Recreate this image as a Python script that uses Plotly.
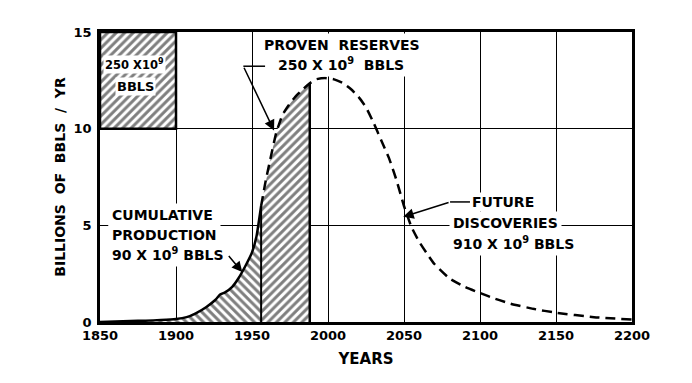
import plotly.graph_objects as go

# ---- data ----
hist_years = [1850, 1860, 1870, 1880, 1890, 1900, 1907, 1913, 1920, 1926, 1929, 1932, 1937, 1941, 1946, 1950, 1953, 1956]
hist_rate = [0.0, 0.03, 0.05, 0.07, 0.1, 0.15, 0.25, 0.45, 0.78, 1.15, 1.42, 1.52, 1.82, 2.25, 2.95, 3.6, 4.45, 6.0]

future_years = [1956, 1959, 1962, 1966, 1970, 1974, 1978, 1983, 1988, 1992, 1998, 2004, 2010, 2015, 2020, 2025,
                2030, 2035, 2040, 2045, 2050, 2055, 2060, 2065, 2070, 2080, 2090, 2100, 2110, 2120, 2135,
                2150, 2175, 2200]
future_rate = [6.0, 7.3, 8.4, 9.8, 10.7, 11.2, 11.6, 12.0, 12.35, 12.55, 12.62, 12.55, 12.35, 12.05, 11.65, 11.1,
               10.3, 9.4, 8.5, 7.35, 6.0, 4.9, 4.15, 3.55, 3.0, 2.25, 1.82, 1.5, 1.2, 0.95, 0.68,
               0.48, 0.25, 0.13]

production_end = 1956
proven_end = 1988
box_years = [1850, 1900]
box_rates = [10, 15]

x_ticks = [1850, 1900, 1950, 2000, 2050, 2100, 2150, 2200]
y_ticks = [0, 5, 10, 15]

FONT = "DejaVu Sans"
HATCH = dict(fgcolor="black", bgcolor="white", size=6, solidity=0.5)

fig = go.Figure()

# box of 250 x 10^9
bx = [box_years[0], box_years[1], box_years[1], box_years[0], box_years[0]]
by = [box_rates[0], box_rates[0], box_rates[1], box_rates[1], box_rates[0]]
fig.add_trace(go.Scatter(x=bx, y=by, mode="lines", fill="toself", fillcolor="white",
                         fillpattern=dict(HATCH, shape="/"),
                         line=dict(color="black", width=2.5), hoverinfo="skip"))

# cumulative production area
cx = hist_years + [production_end, hist_years[0]]
cy = hist_rate + [0, 0]
fig.add_trace(go.Scatter(x=cx, y=cy, mode="lines", fill="toself", fillcolor="white",
                         fillpattern=dict(HATCH, shape="\\"),
                         line=dict(width=0, color="rgba(0,0,0,0)"), hoverinfo="skip"))

# proven reserves area
px_ = [y for y in future_years if y <= proven_end]
py_ = [r for y, r in zip(future_years, future_rate) if y <= proven_end]
rx = px_ + [proven_end, production_end]
ry = py_ + [0, 0]
fig.add_trace(go.Scatter(x=rx, y=ry, mode="lines", fill="toself", fillcolor="white",
                         fillpattern=dict(HATCH, shape="/"),
                         line=dict(width=0, color="rgba(0,0,0,0)"), hoverinfo="skip"))

# vertical edges
fig.add_trace(go.Scatter(x=[production_end, production_end], y=[0, hist_rate[-1]], mode="lines",
                         line=dict(color="black", width=2), hoverinfo="skip"))
fig.add_trace(go.Scatter(x=[proven_end, proven_end], y=[0, py_[-1]], mode="lines",
                         line=dict(color="black", width=2.5), hoverinfo="skip"))

# historical curve (solid)
fig.add_trace(go.Scatter(x=hist_years, y=hist_rate, mode="lines",
                         line=dict(color="black", width=2.5, shape="spline", smoothing=0.4), hoverinfo="skip"))
# future curve (dashed)
fig.add_trace(go.Scatter(x=future_years, y=future_rate, mode="lines",
                         line=dict(color="black", width=2.5, dash="10px,6px", shape="spline", smoothing=0.5),
                         hoverinfo="skip"))

tf = dict(family=FONT, size=14, color="black", weight="bold")

def label(x, y, text, xanchor="center", pad=3, size=14):
    return dict(x=x, y=y, text=text, xanchor=xanchor, showarrow=False, bgcolor="white",
                borderpad=pad, font=dict(tf, size=size), xref="x", yref="y")

ann = [
    # box label
    label(1873.0, 13.33, "250 X10<sup>9</sup>", pad=1, size=11.5),
    label(1873.6, 12.2, "BBLS", pad=1, size=13),
    # proven reserves label
    label(2008.9, 14.31, "PROVEN  RESERVES", pad=3),
    label(2008.4, 13.33, "250 X 10<sup>9</sup>  BBLS", pad=3),
    # cumulative production label
    label(1855.0, 5.52, "CUMULATIVE", xanchor="left", pad=3),
    label(1855.0, 4.49, "PRODUCTION", xanchor="left", pad=3),
    label(1855.0, 3.50, "90 X 10<sup>9</sup> BBLS", xanchor="left", pad=3),
    # future discoveries labels
    label(2093.5, 6.21, "FUTURE", xanchor="left", pad=1),
    label(2079.4, 5.11, "DISCOVERIES", xanchor="left", pad=3),
    label(2079.4, 4.10, "910 X 10<sup>9</sup> BBLS", xanchor="left", pad=3),
]

# arrows
arrow = dict(showarrow=True, arrowhead=2, arrowsize=1.4, arrowwidth=1.5, arrowcolor="black",
             axref="x", ayref="y", xref="x", yref="y", text="", standoff=0, startstandoff=0)
ann.append(dict(arrow, x=1964.5, y=9.9, ax=1944.3, ay=13.23))
ann.append(dict(arrow, x=1943.6, y=2.58, ax=1933.9, ay=3.49))
ann.append(dict(arrow, x=2049.5, y=5.44, ax=2080.3, ay=6.21))

shapes = [
    dict(type="line", xref="x", yref="y", x0=1944.3, x1=1958.6, y0=13.23, y1=13.23,
         line=dict(color="black", width=1.5)),
    dict(type="line", xref="x", yref="y", x0=2080.3, x1=2093.4, y0=6.21, y1=6.21,
         line=dict(color="black", width=1.5)),
]

fig.update_layout(
    width=692, height=383,
    margin=dict(l=92, r=68, t=24, b=69),
    paper_bgcolor="white", plot_bgcolor="white",
    showlegend=False,
    annotations=ann, shapes=shapes,
    font=dict(family=FONT, size=13, color="black"),
)
fig.update_xaxes(range=[1850, 2200], tickvals=x_ticks, ticktext=[str(v) for v in x_ticks],
                 showgrid=True, gridcolor="black", gridwidth=1.2, zeroline=False,
                 showline=True, linecolor="black", linewidth=2.5, mirror=True, ticks="",
                 tickfont=dict(family=FONT, size=13, weight="bold"),
                 title=dict(text="YEARS", font=dict(family=FONT, size=15, weight="bold"), standoff=12))
fig.update_yaxes(range=[0, 15], tickvals=y_ticks, ticktext=[str(v) for v in y_ticks],
                 showgrid=True, gridcolor="black", gridwidth=1.2, zeroline=False,
                 showline=True, linecolor="black", linewidth=2.5, mirror=True, ticks="",
                 ticklabelstandoff=3,
                 tickfont=dict(family=FONT, size=13, weight="bold"),
                 title=dict(text="BILLIONS  OF  BBLS  /  YR", font=dict(family=FONT, size=14, weight="bold"),
                            standoff=5))

fig.write_html("out.html")
